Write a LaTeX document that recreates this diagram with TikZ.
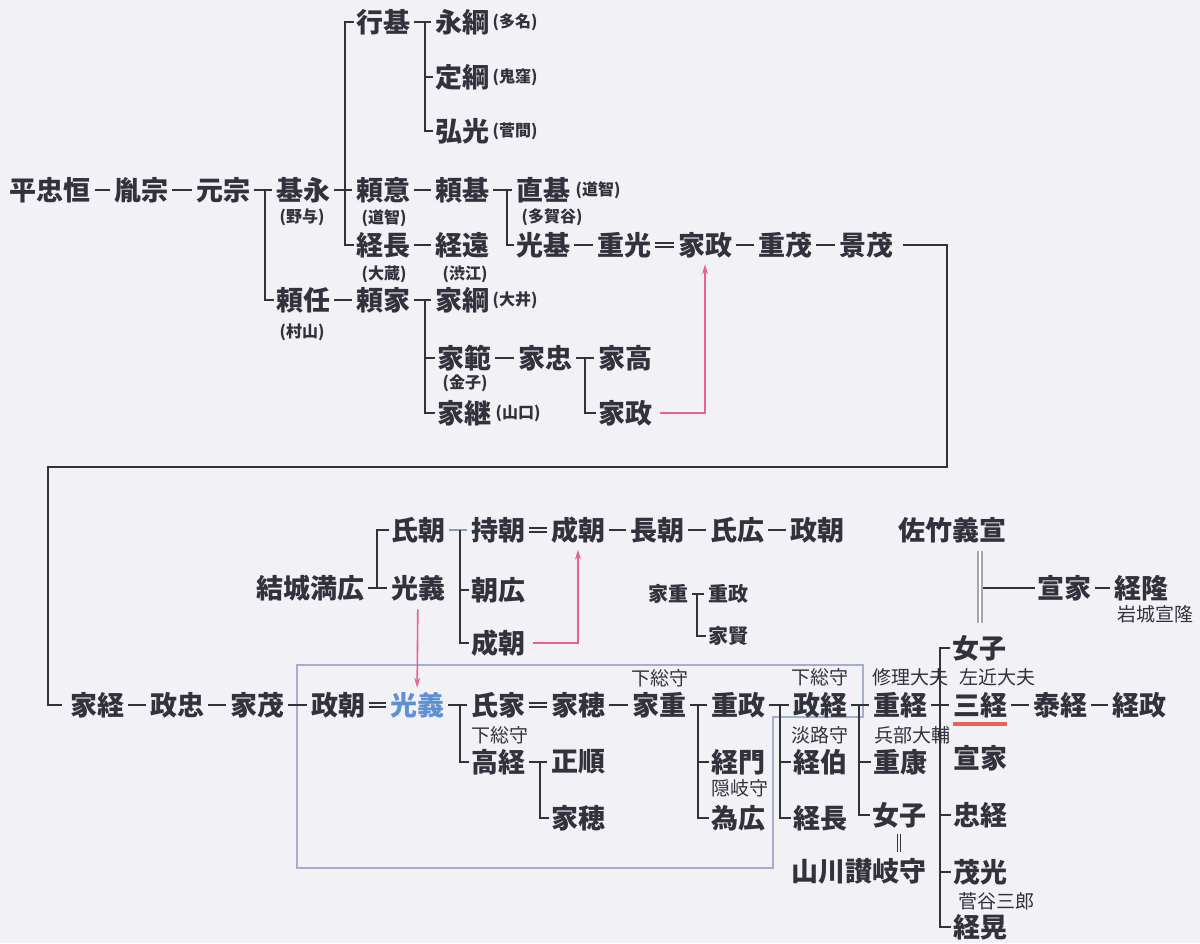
\documentclass[tikz,border=0pt]{standalone}
\usepackage{fontspec}
\newfontfamily\jp{Noto Sans CJK JP}
\usetikzlibrary{arrows.meta}
\definecolor{ink}{RGB}{50,50,60}
\definecolor{paper}{RGB}{242,241,246}
\definecolor{pinkarrow}{RGB}{232,96,150}
\definecolor{frame}{RGB}{165,175,205}
\definecolor{blueish}{RGB}{95,145,210}
\definecolor{bluegray}{RGB}{120,160,200}
\definecolor{redbar}{RGB}{232,100,80}
\definecolor{grayline}{RGB}{165,165,175}
\begin{document}
\begin{tikzpicture}[x=0.5pt,y=-0.5pt,
  nm/.style={font=\jp\bfseries\fontsize{13.5}{14}\selectfont,text=ink,inner sep=0pt},
  note/.style={font=\jp\bfseries\fontsize{8}{9}\selectfont,text=ink,inner sep=0pt},
  office/.style={font=\jp\fontsize{9.5}{10}\selectfont,text=ink,inner sep=0pt},
  sm/.style={font=\jp\bfseries\fontsize{10}{11}\selectfont,text=ink,inner sep=0pt},
  ln/.style={draw=ink,line width=1.4pt},
  tie/.style={ln,shorten <=2pt,shorten >=2pt},
  adopt/.style={draw=ink,double=paper,line width=0.8pt,double distance=1.3pt,shorten <=2pt,shorten >=2pt},
  spine/.style={ln,shorten >=1pt},
  pk/.style={draw=pinkarrow,line width=0.8pt,-{Stealth[length=5pt,width=3pt]}}]
\fill[paper] (0,0) rectangle (1200,943);
\useasboundingbox (0,0) rectangle (1200,943);
% frame
\draw[frame,line width=0.6pt] (297,665) -- (863,665) -- (863,717) -- (773,717) -- (773,868) -- (297,868) -- cycle;
% upper family
\node[nm] (tadatsune) at (50,190) {平忠恒};
\node[nm] (tanemune) at (141,190) {胤宗};
\node[nm] (motomune) at (223,190) {元宗};
\node[nm] (motonaga) at (303,190) {基永};
\node[nm] (yorito) at (303,300) {頼任};
\node[nm] (yukimoto) at (383,22) {行基};
\node[nm] (yorii) at (383,190) {頼意};
\node[nm] (tsunenaga) at (383,245) {経長};
\node[nm] (yorie) at (383,300) {頼家};
\node[nm] (nagatsuna) at (462,22) {永綱};
\node[nm] (sadatsuna) at (462,77) {定綱};
\node[nm] (hiromitsu) at (462,131) {弘光};
\node[nm] (yorimoto) at (462,190) {頼基};
\node[nm] (tsunetoo) at (462,245) {経遠};
\node[nm] (ietsuna) at (462,300) {家綱};
\node[nm] (ienori) at (464,358) {家範};
\node[nm] (ietsugu) at (464,413) {家継};
\node[nm] (naomoto) at (543,190) {直基};
\node[nm] (mitsumoto) at (543,245) {光基};
\node[nm] (ietada) at (545,358) {家忠};
\node[nm] (shigemitsu) at (624,245) {重光};
\node[nm] (ietaka) at (625,358) {家高};
\node[nm] (iemasaB) at (625,413) {家政};
\node[nm] (iemasaA) at (705,245) {家政};
\node[nm] (shigemochi) at (785,245) {重茂};
\node[nm] (kagemochi) at (866,245) {景茂};
% upper notes
\node[note] (nYoichi) at (302,217) {(野与)};
\node[note] (nMurayama) at (302,332) {(村山)};
\node[note] (nDochiA) at (384,218) {(道智)};
\node[note] (nOkura) at (384,274) {(大蔵)};
\node[note] (nShibue) at (465,274) {(渋江)};
\node[note] (nTana) at (515,22) {(多名)};
\node[note] (nOnikubo) at (515,77) {(鬼窪)};
\node[note] (nSugama) at (515,131) {(菅間)};
\node[note] (nDochiB) at (598,190) {(道智)};
\node[note] (nTagaya) at (552,217) {(多賀谷)};
\node[note] (nOi) at (515,300) {(大井)};
\node[note] (nKaneko) at (465,383) {(金子)};
\node[note] (nYamaguchi) at (518,413) {(山口)};
% upper lines
\coordinate (s1) at (265,190);
\coordinate (s2) at (345,190);
\coordinate (s3) at (425,22);
\coordinate (s4) at (507,190);
\coordinate (s5) at (425,300);
\coordinate (s6) at (585,358);
\coordinate (k1) at (947,467);
\coordinate (k2) at (48,467);
\draw[tie] (tadatsune) -- (tanemune);
\draw[tie] (tanemune) -- (motomune);
\draw[tie] (motomune) -- (motonaga);
\draw[spine] (s1) |- (yorito.west);
\draw[tie] (motonaga) -- (yorii);
\draw[ln,shorten <=1pt,shorten >=1pt] (yukimoto.west) -| (s2) |- (tsunenaga.west);
\draw[tie] (yorii) -- (yorimoto);
\draw[tie] (tsunenaga) -- (tsunetoo);
\draw[tie] (yorito) -- (yorie);
\draw[tie] (yukimoto) -- (nagatsuna);
\draw[spine] (s3) |- (hiromitsu.west);
\draw[spine] (s3 |- sadatsuna) -- (sadatsuna.west);
\draw[tie] (yorimoto) -- (naomoto);
\draw[spine] (s4) |- (mitsumoto.west);
\draw[tie] (yorie) -- (ietsuna);
\draw[spine] (s5) |- (ietsugu.west);
\draw[spine] (s5 |- ienori) -- (ienori.west);
\draw[tie] (ienori) -- (ietada);
\draw[tie] (ietada) -- (ietaka);
\draw[spine] (s6) |- (iemasaB.west);
\draw[tie] (mitsumoto) -- (shigemitsu);
\draw[adopt] (shigemitsu) -- (iemasaA);
\draw[tie] (iemasaA) -- (shigemochi);
\draw[tie] (shigemochi) -- (kagemochi);
\draw[pk,shorten <=4pt,shorten >=3pt] (iemasaB.east) -| (iemasaA.south);
% lower family
\node[nm] (mitsuhiro) at (310,588) {結城満広};
\node[nm] (ujitomo) at (418,530) {氏朝};
\node[nm] (mitsuyoshiA) at (418,588) {光義};
\node[nm] (mochitomo) at (498,530) {持朝};
\node[nm] (tomohiro) at (498,590) {朝広};
\node[nm] (shigetomoB) at (498,643) {成朝};
\node[nm] (shigetomoA) at (578,530) {成朝};
\node[nm] (nagatomo) at (657,530) {長朝};
\node[nm] (ujihiro) at (737,530) {氏広};
\node[nm] (masatomoA) at (817,530) {政朝};
\node[nm] (yoshinobu) at (952,530) {佐竹義宣};
\node[sm] (ieshigeS) at (668,594) {家重};
\node[sm] (shigemasaS) at (728,594) {重政};
\node[sm] (iekata) at (728,636) {家賢};
\node[nm] (nobuieA) at (1064,588) {宣家};
\node[nm] (tsunetaka) at (1141,588) {経隆};
\node[office] (iwaki) at (1155,614) {岩城宣隆};
\node[nm] (ietsune) at (97,705) {家経};
\node[nm] (masatada) at (177,705) {政忠};
\node[nm] (iemochi) at (257,705) {家茂};
\node[nm] (masatomoB) at (338,705) {政朝};
\node[nm,text=blueish] (mitsuyoshiB) at (417,705) {光義};
\node[nm] (ujiie) at (498,705) {氏家};
\node[nm] (ienoA) at (578,705) {家穂};
\node[nm] (ieshige) at (659,705) {家重};
\node[nm] (shigemasa) at (738,705) {重政};
\node[nm] (masatsune) at (820,705) {政経};
\node[nm] (shigetsune) at (900,705) {重経};
\node[nm] (mitsune) at (980,705) {三経};
\node[nm] (yasutsune) at (1060,705) {泰経};
\node[nm] (tsunemasa) at (1139,705) {経政};
\node[nm] (takatsune) at (498,762) {高経};
\node[nm] (masayori) at (578,762) {正順};
\node[nm] (ienoB) at (578,818) {家穂};
\node[nm] (tsunekado) at (738,762) {経門};
\node[nm] (tamehiro) at (738,818) {為広};
\node[nm] (tsunenori) at (820,762) {経伯};
\node[nm] (tsunenagaB) at (820,818) {経長};
\node[nm] (shigeyasu) at (900,762) {重康};
\node[nm] (joshiA) at (899,815) {女子};
\node[nm] (yamakawa) at (859,871) {山川讃岐守};
\node[nm] (joshiB) at (979,648) {女子};
\node[nm] (nobuieB) at (980,758) {宣家};
\node[nm] (tadatsuneB) at (980,815) {忠経};
\node[nm] (shigemitsuB) at (980,872) {茂光};
\node[nm] (tsuneaki) at (980,927) {経晃};
% offices
\node[office] (oIeshige) at (660,678) {下総守};
\node[office] (oMasatsune) at (820,677) {下総守};
\node[office] (oTakatsune) at (500,735) {下総守};
\node[office] (oShigetsune) at (910,677) {修理大夫};
\node[office] (oMitsune) at (997,677) {左近大夫};
\node[office] (oShigeyasu) at (912,735) {兵部大輔};
\node[office] (oTsunenori) at (820,735) {淡路守};
\node[office] (oTamehiro) at (740,788) {隠岐守};
\node[office] (oTsuneaki) at (996,901) {菅谷三郎};
% lower lines
\coordinate (s7) at (377,588);
\coordinate (s8) at (460,530);
\coordinate (s9) at (697,594);
\coordinate (g1) at (980,623);
\coordinate (s10) at (460,705);
\coordinate (s11) at (540,762);
\coordinate (s12) at (698,705);
\coordinate (s13) at (780,705);
\coordinate (s14) at (859,705);
\coordinate (s15) at (940,705);
\draw[ln,shorten <=5pt,shorten >=4pt] (kagemochi.east) -| (k1) -- (k2) |- (ietsune.west);
\draw[tie] (mitsuhiro) -- (mitsuyoshiA);
\draw[spine] (s7) |- (ujitomo.west);
\draw[tie,draw=bluegray] (ujitomo) -- (mochitomo);
\draw[spine] (s8) |- (shigetomoB.west);
\draw[spine] (s8 |- tomohiro) -- (tomohiro.west);
\draw[adopt] (mochitomo) -- (shigetomoA);
\draw[tie] (shigetomoA) -- (nagatomo);
\draw[tie] (nagatomo) -- (ujihiro);
\draw[tie] (ujihiro) -- (masatomoA);
\draw[pk,shorten <=4pt,shorten >=3pt] (shigetomoB.east) -| (shigetomoA.south);
\draw[pk,shorten <=4pt,shorten >=2pt] (mitsuyoshiA) -- (mitsuyoshiB);
\draw[tie] (ieshigeS) -- (shigemasaS);
\draw[spine] (s9) |- (iekata.west);
\draw[draw=grayline,double=white,line width=0.9pt,double distance=1.4pt,shorten <=4pt] (yoshinobu.south -| g1) -- (g1);
\draw[ln,shorten >=1pt] ([xshift=1.6pt]g1 |- nobuieA) -- (nobuieA.west);
\draw[tie] (nobuieA) -- (tsunetaka);
\draw[tie] (ietsune) -- (masatada);
\draw[tie] (masatada) -- (iemochi);
\draw[tie] (iemochi) -- (masatomoB);
\draw[adopt] (masatomoB) -- (mitsuyoshiB);
\draw[tie] (mitsuyoshiB) -- (ujiie);
\draw[adopt] (ujiie) -- (ienoA);
\draw[tie] (ienoA) -- (ieshige);
\draw[tie] (ieshige) -- (shigemasa);
\draw[tie] (shigemasa) -- (masatsune);
\draw[tie] (masatsune) -- (shigetsune);
\draw[tie] (shigetsune) -- (mitsune);
\draw[tie] (mitsune) -- (yasutsune);
\draw[tie] (yasutsune) -- (tsunemasa);
\draw[spine] (s10) |- (takatsune.west);
\draw[tie] (takatsune) -- (masayori);
\draw[spine] (s11) |- (ienoB.west);
\draw[spine] (s12) |- (tamehiro.west);
\draw[spine] (s12 |- tsunekado) -- (tsunekado.west);
\draw[spine] (s13) |- (tsunenagaB.west);
\draw[spine] (s13 |- tsunenori) -- (tsunenori.west);
\draw[spine] (s14) |- (joshiA.west);
\draw[spine] (s14 |- shigeyasu) -- (shigeyasu.west);
\draw[ln,shorten <=1pt,shorten >=1pt] (joshiB.west) -| (s15) |- (tsuneaki.west);
\draw[spine] (s15 |- tadatsuneB) -- (tadatsuneB.west);
\draw[spine] (s15 |- shigemitsuB) -- (shigemitsuB.west);
\draw[draw=ink,double=paper,line width=0.6pt,double distance=1.2pt,shorten <=3pt,shorten >=3pt] (joshiA) -- (joshiA |- yamakawa.north);
\draw[draw=redbar,line width=2pt] ([yshift=-3pt]mitsune.south west) -- ([yshift=-3pt]mitsune.south east);
\end{tikzpicture}
\end{document}
